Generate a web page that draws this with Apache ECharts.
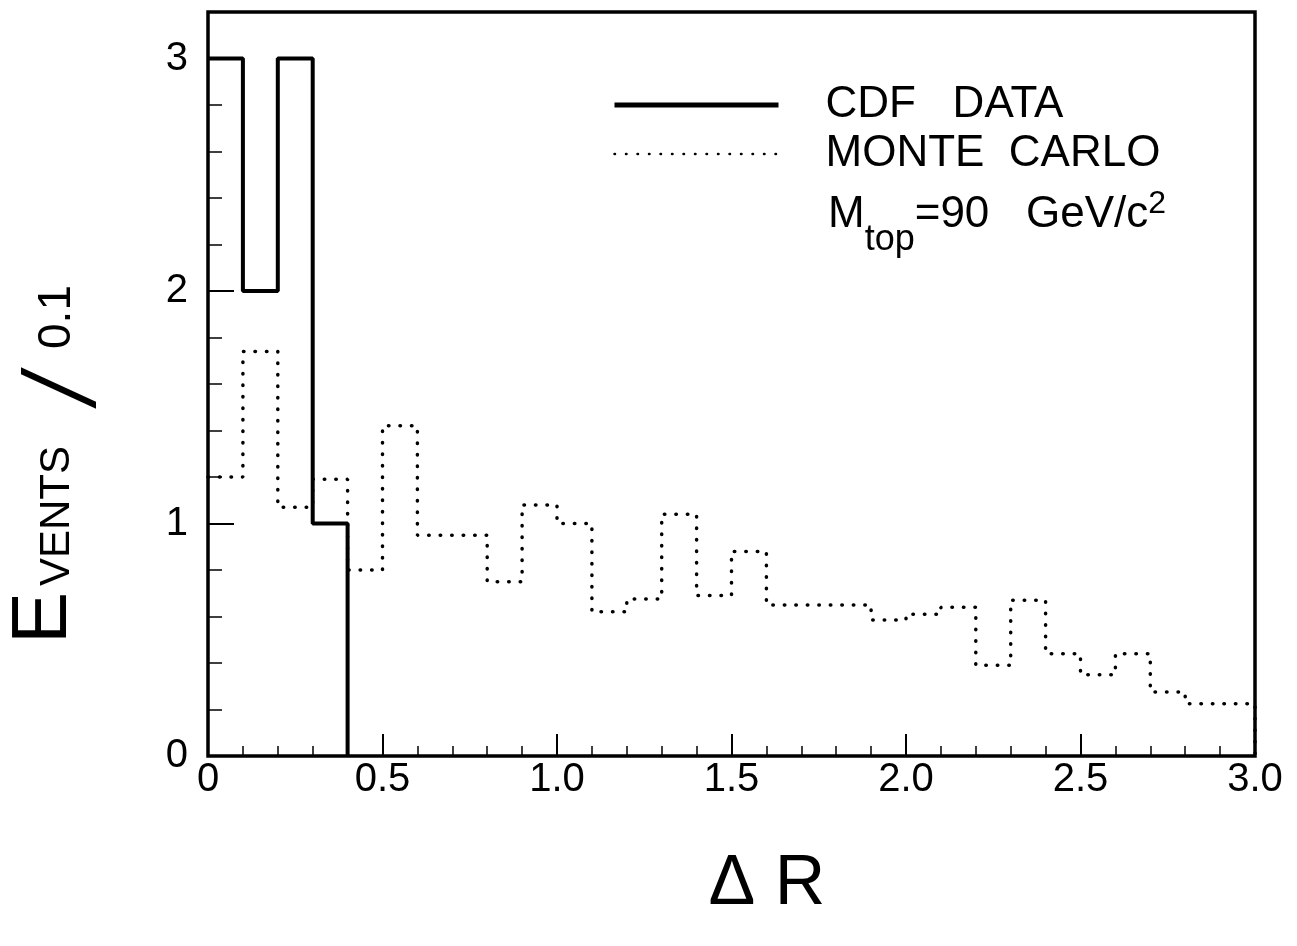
<!DOCTYPE html>
<html>
<head>
<meta charset="utf-8">
<title>Delta R</title>
<script src="https://cdn.jsdelivr.net/npm/echarts@6/dist/echarts.min.js"></script>
<style>
  html, body { margin: 0; padding: 0; background: #fff; }
  #main { width: 1297px; height: 946px; }
</style>
</head>
<body>
<div id="main"></div>
<script>
  // bin edges of the histogram (width 0.1)
  var binEdges = [0, 0.1, 0.2, 0.3, 0.4, 0.5, 0.6, 0.7, 0.8, 0.9, 1.0,
    1.1, 1.2, 1.3, 1.4, 1.5, 1.6, 1.7, 1.8, 1.9, 2.0,
    2.1, 2.2, 2.3, 2.4, 2.5, 2.6, 2.7, 2.8, 2.9, 3.0];

  // CDF data, events per bin (only first bins filled)
  var cdfCounts = [3, 2, 3, 1];

  // Monte Carlo, M_top = 90 GeV/c^2
  var mcCounts = [1.20, 1.74, 1.07, 1.19, 0.80, 1.42, 0.95, 0.95, 0.75, 1.08,
    1.00, 0.62, 0.675, 1.04, 0.69, 0.88, 0.65, 0.65, 0.65, 0.585,
    0.61, 0.64, 0.39, 0.67, 0.44, 0.35, 0.44, 0.275, 0.225, 0.225];

  var xMajor = [0, 0.5, 1.0, 1.5, 2.0, 2.5, 3.0];
  var yMajor = [0, 1, 2, 3];

  var font = 'Liberation Sans';

  // step line points: left edge of each bin, then drop at the last edge
  function stepData(counts) {
    var pts = counts.map(function (v, i) { return [binEdges[i], v]; });
    pts.push([binEdges[counts.length], 0]);
    return pts;
  }

  var myChart = echarts.init(document.getElementById('main'));

  var option = {
    backgroundColor: '#fff',
    animation: false,
    textStyle: { fontFamily: font, color: '#000' },
    grid: {
      left: 208, right: 42, top: 12, bottom: 190,
      show: true,
      borderColor: '#000',
      borderWidth: 3.5
    },
    legend: {
      orient: 'vertical',
      left: 612,
      top: 83,
      padding: 0,
      itemWidth: 164,
      itemHeight: 14,
      itemGap: 5,
      selectedMode: false,
      formatter: function (name) {
        return name === 'CDF DATA' ? 'CDF   DATA' : 'MONTE  CARLO';
      },
      textStyle: {
        fontFamily: font,
        fontSize: 44,
        lineHeight: 44,
        color: '#000',
        padding: [0, 0, 0, 42]
      },
      data: [
        { name: 'CDF DATA', lineStyle: { width: 5 } },
        { name: 'MONTE CARLO', lineStyle: { width: 2.5 } }
      ]
    },
    xAxis: [
      {
        // minor ticks every 0.1
        type: 'value', min: 0, max: 3, interval: 0.1,
        axisLine: { show: false },
        axisTick: { inside: true, length: 10, lineStyle: { color: '#000', width: 1.5 } },
        axisLabel: { show: false },
        splitLine: { show: false }
      },
      {
        // major ticks + labels
        type: 'value', min: 0, max: 3, interval: 0.5, position: 'bottom',
        axisLine: { show: false },
        axisTick: { inside: true, length: 22, lineStyle: { color: '#000', width: 2 } },
        axisLabel: {
          fontSize: 40, color: '#000', margin: 4, fontFamily: font,
          formatter: function (v) {
            return xMajor.indexOf(Math.round(v * 10) / 10) === 0 ? '0' : v.toFixed(1);
          }
        },
        splitLine: { show: false }
      }
    ],
    yAxis: [
      {
        type: 'value', min: 0, max: 3.2, interval: 0.2,
        axisLine: { show: false },
        axisTick: { inside: true, length: 14, lineStyle: { color: '#000', width: 1.5 } },
        axisLabel: { show: false },
        splitLine: { show: false }
      },
      {
        type: 'value', min: 0, max: 3.2, interval: 1, position: 'left',
        axisLine: { show: false },
        axisTick: { inside: true, length: 26, lineStyle: { color: '#000', width: 2 } },
        axisLabel: {
          fontSize: 40, color: '#000', margin: 20, fontFamily: font,
          formatter: function (v) {
            return yMajor.indexOf(v) >= 0 ? String(v) : '';
          }
        },
        splitLine: { show: false }
      }
    ],
    graphic: [
      // third legend line: M_top = 90 GeV/c^2
      {
        type: 'text', left: 828, top: 172,
        style: {
          text: '{m|M}{s|top}{m|=90   GeV/c}{p|2}',
          fill: '#000',
          rich: {
            m: { fontFamily: font, fontSize: 44, lineHeight: 44, verticalAlign: 'middle' },
            s: { fontFamily: font, fontSize: 36, lineHeight: 36, padding: [50, 0, 0, 0], verticalAlign: 'middle' },
            p: { fontFamily: font, fontSize: 32, lineHeight: 32, padding: [0, 0, 22, 0], verticalAlign: 'middle' }
          }
        }
      },
      // y axis title: EVENTS /0.1 (small caps)
      {
        type: 'text', x: 44, y: 618, rotation: Math.PI / 2,
        style: { text: 'E', fontFamily: font, fontSize: 78, fill: '#000', align: 'center', verticalAlign: 'middle' }
      },
      {
        type: 'text', x: 57, y: 516, rotation: Math.PI / 2,
        style: { text: 'VENTS', fontFamily: font, fontSize: 42, fill: '#000', align: 'center', verticalAlign: 'middle' }
      },
      {
        type: 'text', x: 65, y: 388, rotation: Math.PI / 2, scaleX: 1.5,
        style: { text: '/', fontFamily: 'DejaVu Sans', fontSize: 90, fontWeight: 200, fill: '#000', align: 'center', verticalAlign: 'middle' }
      },
      {
        type: 'text', x: 57, y: 317, rotation: Math.PI / 2,
        style: { text: '0.1', fontFamily: font, fontSize: 46, fill: '#000', align: 'center', verticalAlign: 'middle' }
      },
      // x axis title
      {
        type: 'text', x: 767, y: 885,
        style: { text: 'Δ R', fontFamily: font, fontSize: 70, fill: '#000', align: 'center', verticalAlign: 'middle' }
      }
    ],
    series: [
      {
        name: 'CDF DATA',
        type: 'line',
        step: 'end',
        symbol: 'none',
        xAxisIndex: 0,
        yAxisIndex: 0,
        lineStyle: { color: '#000', width: 4, type: 'solid' },
        itemStyle: { color: 'rgba(0,0,0,0)', borderWidth: 0 },
        data: stepData(cdfCounts),
        z: 3
      },
      {
        name: 'MONTE CARLO',
        type: 'line',
        step: 'end',
        symbol: 'none',
        xAxisIndex: 0,
        yAxisIndex: 0,
        lineStyle: { color: '#000', width: 3.5, type: [0.5, 11], cap: 'round' },
        itemStyle: { color: 'rgba(0,0,0,0)', borderWidth: 0 },
        data: stepData(mcCounts),
        z: 2
      }
    ]
  };

  myChart.setOption(option);
  window.addEventListener('resize', function () { myChart.resize(); });
</script>
</body>
</html>
